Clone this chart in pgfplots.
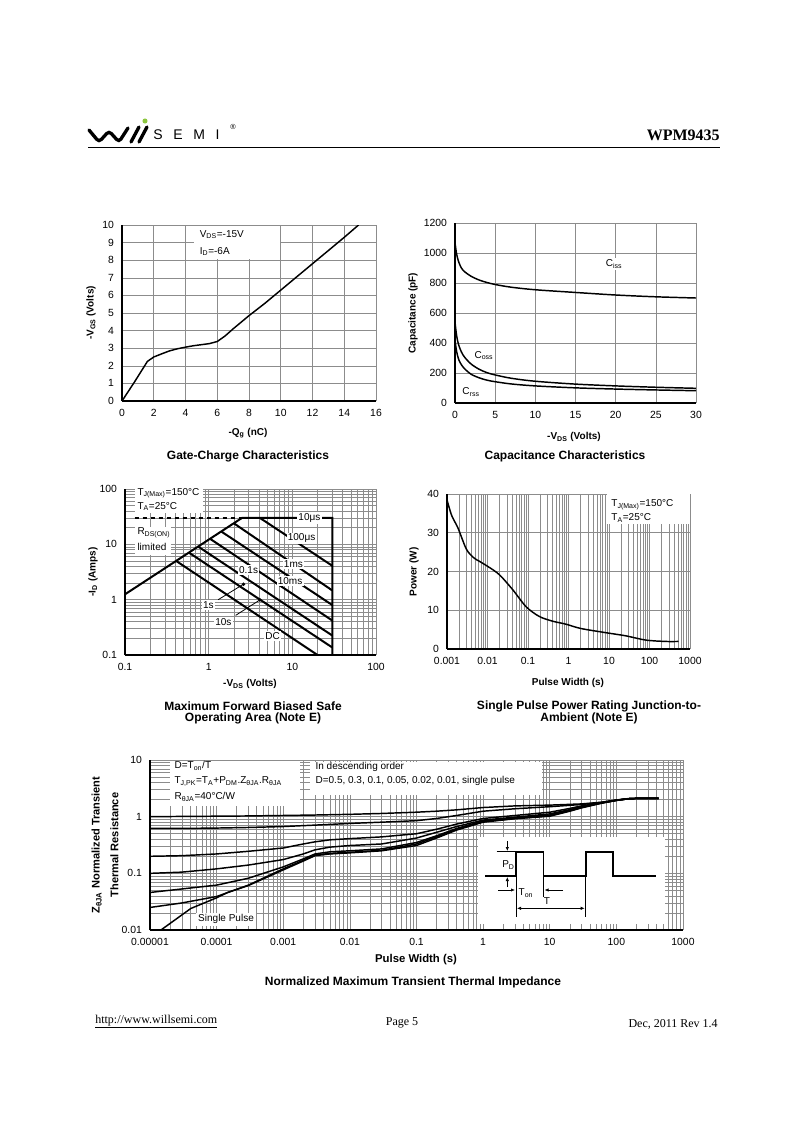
\documentclass[border=0pt]{standalone}
\usepackage{fontspec}
\setmainfont{Liberation Sans}
\newfontfamily\tnr{Liberation Serif}
\usepackage{pgfplots}
\pgfplotsset{compat=1.18}
\usetikzlibrary{arrows.meta}
\definecolor{gridc}{gray}{0.55}
\definecolor{logogreen}{RGB}{140,198,63}
\pgfplotsset{
  ds/.style={scale only axis, anchor=south west, axis lines=left, clip mode=individual,
    axis line style={-,black,line width=0.8pt},
    grid style={gridc,line width=0.45pt}, minor grid style={gridc,line width=0.4pt},
    major tick length=0pt, minor tick length=0pt,
    tick label style={font=\fontsize{7.8}{9}\selectfont},
    xticklabel style={yshift=-2.5pt}, yticklabel style={xshift=-2.5pt},
    /pgf/number format/1000 sep={},
    /pgf/number format/assume math mode=true},
  curve/.style={black, line width=1.1pt, line join=round, mark=none},
  soa/.style={black, line width=1.5pt, mark=none},
}
\tikzset{lab/.style={font=\fontsize{7.5}{9}\selectfont\bfseries, inner sep=0pt},
  ttl/.style={font=\fontsize{9}{11}\selectfont\bfseries, inner sep=0pt},
  ann/.style={font=\fontsize{7.5}{9}\selectfont, inner sep=1pt}}
\begin{document}
\begin{tikzpicture}[x=0.75pt,y=-0.75pt]
\fill[white] (0,0) rectangle (800,1132);
% ---------- header
\draw[line width=2.5pt, rounded corners=2.5pt, line cap=round] (89,130) -- (99,142) -- (109,131) -- (119,142) -- (128,128);
\draw[line width=2.5pt, line cap=round] (131,142) -- (139,127) (139,142) -- (147,127);
\fill[logogreen] (145,121) circle (1.9pt);
\node[anchor=base west, inner sep=0pt, font=\fontsize{10.5}{11}\selectfont] at (153,139) {S\hspace{8pt}E\hspace{8pt}M\hspace{8pt}I};
\node[inner sep=0pt, font=\fontsize{5.5}{6}\selectfont] at (233,127) {®};
\node[anchor=base east, inner sep=0pt, font=\tnr\bfseries\fontsize{12}{14}\selectfont] at (720,140) {WPM9435};
\draw[line width=0.9pt] (88,147.5) -- (720,147.5);
% ---------- chart 1: gate charge
\begin{axis}[ds, at={(91.5pt,-300.75pt)}, width=190.5pt, height=132pt,
  xmin=0, xmax=16, ymin=0, ymax=10, xtick={0,2,...,16}, ytick={0,1,...,10}, grid=major]
\fill[white] (axis cs:4.55,8.06) rectangle (axis cs:9.93,9.96);
\node[ann, anchor=west] at (axis cs:4.8,9.45) {V\textsubscript{DS}=-15V};
\node[ann, anchor=west] at (axis cs:4.8,8.5) {I\textsubscript{D}=-6A};
\addplot[curve] coordinates {(0,0) (0.8,1.1) (1.6,2.25) (2,2.5) (2.5,2.68) (3,2.85) (3.5,2.97) (4,3.06) (4.5,3.14) (5,3.2) (5.5,3.26) (6,3.38) (6.5,3.7) (7,4.1) (8,4.85) (9,5.55) (10,6.3) (11,7.05) (12,7.8) (13,8.55) (14,9.3) (14.9,10)};
\end{axis}
\node[lab, rotate=90] at (91,313) {-V\textsubscript{GS} (Volts)};
\node[lab] at (248,433) {-Q\textsubscript{g} (nC)};
\node[ttl] at (248,456) {Gate-Charge Characteristics};
% ---------- chart 2: capacitance
\begin{axis}[ds, at={(341.25pt,-302.25pt)}, width=180.75pt, height=135pt,
  xmin=0, xmax=30, ymin=0, ymax=1200, xtick={0,5,...,30}, ytick={0,200,...,1200}, grid=major]
\node[ann, fill=white] at (axis cs:19.8,925) {C\textsubscript{iss}};
\node[ann, fill=white] at (axis cs:3.6,315) {C\textsubscript{oss}};
\node[ann, fill=white] at (axis cs:2.0,72) {C\textsubscript{rss}};
\addplot[curve, smooth] coordinates {(0,1070) (0.15,1010) (0.3,970) (0.5,935) (0.8,900) (1.2,875) (2,845) (3,820) (4,803) (5,790) (7,772) (10,755) (15,737) (20,720) (25,708) (30,700)};
\addplot[curve, smooth] coordinates {(0,540) (0.15,470) (0.3,420) (0.5,380) (0.8,340) (1.2,305) (2,260) (3,225) (4,202) (5,187) (7,165) (10,145) (15,126) (20,114) (25,105) (30,98)};
\addplot[curve, smooth] coordinates {(0,420) (0.15,360) (0.3,320) (0.5,285) (0.8,255) (1.2,228) (2,192) (3,168) (4,152) (5,142) (7,127) (10,114) (15,101) (20,93) (25,87) (30,82)};
\end{axis}
\node[lab, rotate=90] at (413,313) {Capacitance (pF)};
\node[lab] at (574,437) {-V\textsubscript{DS} (Volts)};
\node[ttl] at (565,456) {Capacitance Characteristics};
% ---------- chart 3: SOA
\begin{axis}[ds, at={(93.75pt,-491.25pt)}, width=188.25pt, height=124.5pt,
  xmode=log, ymode=log, xmin=0.1, xmax=100, ymin=0.1, ymax=100,
  xtick={0.1,1,10,100}, xticklabels={0.1,1,10,100},
  ytick={0.1,1,10,100}, yticklabels={0.1,1,10,100}, grid=both]
\fill[white] (axis cs:0.13,37) rectangle (axis cs:0.85,99);
\fill[white] (axis cs:0.13,6.4) rectangle (axis cs:0.35,20.6);
\node[ann, anchor=west] at (axis cs:0.135,84) {T\textsubscript{J(Max)}=150°C};
\node[ann, anchor=west] at (axis cs:0.135,48) {T\textsubscript{A}=25°C};
\node[ann, anchor=west] at (axis cs:0.135,16) {R\textsubscript{DS(ON)}};
\node[ann, anchor=west] at (axis cs:0.135,8.9) {limited};
\addplot[soa] coordinates {(0.1,1.25) (2.5,30) (30,30) (30,0.1)};
\addplot[soa, dashed, line width=1.1pt] coordinates {(0.13,30) (2.5,30)};
\addplot[soa] coordinates {(4.1,30) (30,4.1)};
\addplot[soa] coordinates {(2,24) (30,1.47)};
\addplot[soa] coordinates {(1.42,17) (30,0.8)};
\addplot[soa] coordinates {(1.04,12.6) (30,0.42)};
\addplot[soa] coordinates {(0.75,9.1) (30,0.225)};
\addplot[soa] coordinates {(0.58,7.1) (30,0.137)};
\addplot[soa] coordinates {(0.41,5.0) (20,0.1)};
\node[ann, fill=white] at (axis cs:16,30) {10μs};
\node[ann, fill=white] at (axis cs:12.9,12.8) {100μs};
\node[ann, fill=white] at (axis cs:10.3,4.4) {1ms};
\node[ann, fill=white] at (axis cs:3.0,3.4) {0.1s};
\node[ann, fill=white] at (axis cs:9.4,2.17) {10ms};
\node[ann, fill=white] at (axis cs:0.99,0.8) {1s};
\node[ann, fill=white] at (axis cs:1.5,0.4) {10s};
\node[ann, fill=white] at (axis cs:5.8,0.22) {DC};
\draw[line width=0.6pt] (axis cs:1.3,1.0) -- (axis cs:2.6,1.9);
\fill (axis cs:2.6,1.9) circle (1.4pt);
\draw[line width=0.6pt] (axis cs:2.1,0.52) -- (axis cs:4.1,0.99);
\fill (axis cs:4.1,0.99) circle (1.4pt);
\end{axis}
\node[lab, rotate=90] at (93,572) {-I\textsubscript{D} (Amps)};
\node[lab] at (250,684) {-V\textsubscript{DS} (Volts)};
\node[ttl] at (253,706) {Maximum Forward Biased Safe};
\node[ttl] at (253,718.5) {Operating Area (Note E)};
% ---------- chart 4: single pulse power
\begin{axis}[ds, at={(335.25pt,-486.75pt)}, width=182.25pt, height=116.25pt,
  xmode=log, xmin=0.001, xmax=1000, ymin=0, ymax=40,
  xtick={0.001,0.01,0.1,1,10,100,1000}, xticklabels={0.001,0.01,0.1,1,10,100,1000},
  ytick={0,10,20,30,40}, xmajorgrids, xminorgrids, ymajorgrids]
\fill[white] (axis cs:9,32.3) rectangle (axis cs:990,39.9);
\node[ann, anchor=west] at (axis cs:10.5,37.2) {T\textsubscript{J(Max)}=150°C};
\node[ann, anchor=west] at (axis cs:10.5,33.8) {T\textsubscript{A}=25°C};
\addplot[curve, smooth] coordinates {(0.001,38.5) (0.0013,34.5) (0.00187,31.2) (0.003,25.8) (0.0045,23.6) (0.0064,22.6) (0.0113,21) (0.02,19.1) (0.042,15.3) (0.09,10.9) (0.19,8.4) (0.4,7.2) (0.87,6.4) (2,5.3) (8.5,4.2) (26,3.4) (81,2.3) (250,1.95) (520,1.95)};
\end{axis}
\node[lab, rotate=90] at (414,572) {Power (W)};
\node[lab] at (568,683) {Pulse Width (s)};
\node[ttl] at (589,706) {Single Pulse Power Rating Junction-to-};
\node[ttl] at (589,718.5) {Ambient (Note E)};
% ---------- chart 5: transient thermal impedance
\begin{axis}[ds, at={(112.5pt,-697.5pt)}, width=399.75pt, height=127.5pt,
  xmode=log, ymode=log, xmin=0.00001, xmax=1000, ymin=0.01, ymax=10,
  xtick={0.00001,0.0001,0.001,0.01,0.1,1,10,100,1000},
  xticklabels={0.00001,0.0001,0.001,0.01,0.1,1,10,100,1000},
  ytick={0.01,0.1,1,10}, yticklabels={0.01,0.1,1,10}, grid=both]
\node[ann, fill=white, anchor=west, inner sep=1.5pt] at (axis cs:0.000049,0.0155) {Single Pulse};
% D=0.5
\addplot[curve] coordinates {(0.00001,1.0) (0.00003,1.01) (0.0001,1.02) (0.0003,1.03) (0.001,1.05) (0.003,1.07) (0.01,1.1) (0.03,1.14) (0.1,1.2) (0.2,1.25) (0.4,1.32) (1,1.45) (3,1.55) (10,1.6) (30,1.68) (60,1.8) (100,1.97) (150,2.08) (200,2.1) (430,2.1)};
% D=0.3
\addplot[curve] coordinates {(0.00001,0.62) (0.00003,0.62) (0.0001,0.63) (0.0003,0.645) (0.001,0.67) (0.003,0.71) (0.01,0.76) (0.03,0.8) (0.1,0.85) (0.2,0.93) (0.4,1.05) (1,1.25) (3,1.38) (10,1.5) (30,1.64) (60,1.79) (100,1.96) (150,2.07) (200,2.1) (430,2.1)};
% D=0.1
\addplot[curve] coordinates {(0.00001,0.2) (0.00003,0.205) (0.0001,0.22) (0.0003,0.245) (0.001,0.28) (0.002,0.33) (0.003,0.36) (0.005,0.39) (0.01,0.41) (0.03,0.44) (0.1,0.5) (0.2,0.6) (0.4,0.74) (1,0.93) (3,1.05) (10,1.2) (20,1.4) (30,1.55) (60,1.77) (100,1.95) (150,2.07) (200,2.1) (430,2.1)};
% D=0.05
\addplot[curve] coordinates {(0.00001,0.1) (0.00003,0.105) (0.0001,0.12) (0.0003,0.14) (0.001,0.175) (0.002,0.22) (0.003,0.26) (0.005,0.29) (0.01,0.31) (0.03,0.33) (0.1,0.42) (0.2,0.53) (0.4,0.67) (1,0.87) (3,0.98) (10,1.12) (20,1.33) (30,1.5) (60,1.76) (100,1.95) (150,2.07) (200,2.1) (430,2.1)};
% D=0.02
\addplot[curve] coordinates {(0.00001,0.046) (0.00003,0.053) (0.0001,0.062) (0.0003,0.082) (0.001,0.13) (0.002,0.18) (0.003,0.22) (0.005,0.24) (0.01,0.25) (0.03,0.27) (0.1,0.35) (0.2,0.46) (0.4,0.62) (1,0.84) (3,0.95) (10,1.07) (20,1.29) (30,1.47) (60,1.75) (100,1.94) (150,2.07) (200,2.1) (430,2.1)};
% D=0.01
\addplot[curve] coordinates {(0.00001,0.025) (0.00003,0.03) (0.0001,0.039) (0.0003,0.062) (0.001,0.12) (0.002,0.17) (0.003,0.21) (0.005,0.225) (0.01,0.235) (0.03,0.255) (0.1,0.33) (0.2,0.44) (0.4,0.6) (1,0.82) (3,0.93) (10,1.04) (20,1.27) (30,1.45) (60,1.74) (100,1.94) (150,2.07) (200,2.1) (430,2.1)};
% single pulse
\addplot[curve] coordinates {(0.0000146,0.01) (0.000041,0.024) (0.0001,0.037) (0.000146,0.046) (0.0003,0.061) (0.001,0.115) (0.002,0.165) (0.003,0.205) (0.005,0.22) (0.01,0.23) (0.03,0.25) (0.1,0.31) (0.2,0.42) (0.4,0.58) (1,0.8) (3,0.92) (10,1.02) (20,1.25) (30,1.43) (60,1.73) (100,1.94) (150,2.07) (200,2.1) (430,2.1)};
\end{axis}
% text boxes
\fill[white] (170,761) rectangle (300,806);
\node[ann, anchor=west] at (173,766) {D=T\textsubscript{on}/T};
\node[ann, anchor=west] at (173,781.5) {T\textsubscript{J,PK}=T\textsubscript{A}+P\textsubscript{DM}.Z\textsubscript{θJA}.R\textsubscript{θJA}};
\node[ann, anchor=west] at (173,796.5) {R\textsubscript{θJA}=40°C/W};
\fill[white] (310,762) rectangle (542,795);
\node[ann, anchor=west] at (314,767) {In descending order};
\node[ann, anchor=west] at (314,781) {D=0.5, 0.3, 0.1, 0.05, 0.02, 0.01, single pulse};
% inset
\fill[white] (478,837) rectangle (665,924);
\draw[line width=1.2pt, line join=miter] (485,876) -- (516,876) -- (516,851.7) -- (543.3,851.7) -- (543.3,876) -- (585.7,876) -- (585.7,851.7) -- (612.7,851.7) -- (612.7,876) -- (656,876);
\draw[line width=0.8pt] (496.7,851.7) -- (515,851.7);
\draw[line width=0.5pt, -{Latex[length=3pt,width=2.5pt]}] (507.3,841) -- (507.3,851);
\draw[line width=0.5pt, -{Latex[length=3pt,width=2.5pt]}] (507.3,887) -- (507.3,877);
\node[ann] at (508.5,865) {P\textsubscript{D}};
\draw[line width=0.5pt] (516,876) -- (516,917) (543.3,876) -- (543.3,897) (585.7,876) -- (585.7,917);
\draw[line width=0.5pt, -{Latex[length=3pt,width=2.5pt]}] (498,890) -- (515,890);
\draw[line width=0.5pt, -{Latex[length=3pt,width=2.5pt]}] (563,890) -- (544.5,890);
\node[ann] at (526,893) {T\textsubscript{on}};
\draw[line width=0.5pt, {Latex[length=3pt,width=2.5pt]}-{Latex[length=3pt,width=2.5pt]}] (517,908.3) -- (584.7,908.3);
\node[ann] at (547,901) {T};
\node[lab, rotate=90, align=center, font=\fontsize{8.3}{14}\selectfont\bfseries] at (105,845) {Z\textsubscript{θJA} Normalized Transient\\Thermal Resistance};
\node[lab, font=\fontsize{8.5}{10}\selectfont\bfseries] at (416,960) {Pulse Width (s)};
\node[ttl] at (413,982) {Normalized Maximum Transient Thermal Impedance};
% ---------- footer
\node[anchor=base west, inner sep=0pt, font=\tnr\fontsize{9}{10}\selectfont] at (95,1023) {\underline{http://www.willsemi.com}};
\node[anchor=base, inner sep=0pt, font=\tnr\fontsize{9}{10}\selectfont] at (402,1025) {Page 5};
\node[anchor=base east, inner sep=0pt, font=\tnr\fontsize{9}{10}\selectfont] at (718,1027) {Dec, 2011 Rev 1.4};
\end{tikzpicture}
\end{document}
